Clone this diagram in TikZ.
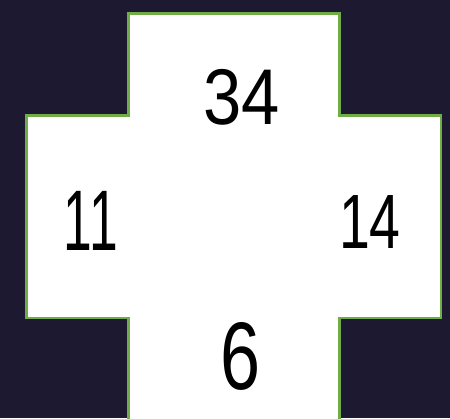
\documentclass[tikz,border=0pt]{standalone}
\usepackage{fontspec}
\setmainfont{Liberation Sans}
\definecolor{bgc}{HTML}{1C1930}
\definecolor{edgegreen}{HTML}{70AD47}
\tikzset{
  crossline/.style={draw=edgegreen, line width=2.6pt, fill=white, line join=miter},
  digits/.style={text=black, inner sep=0pt}
}
\begin{document}
\begin{tikzpicture}[x=1pt,y=-1pt]
\useasboundingbox (0,0) rectangle (450,418);
\clip (0,0) rectangle (450,418);
\fill[bgc] (0,0) rectangle (450,418);
\draw[crossline] (128.3,425) -- (128.3,318) -- (26.3,318) -- (26.3,115.5) -- (128.3,115.5) -- (128.3,13.3) -- (339.5,13.3) -- (339.5,115.5) -- (441,115.5) -- (441,318) -- (339.5,318) -- (339.5,425);
\node[digits, font=\fontsize{79}{80}\selectfont, xscale=0.87] (top) at (242,97) {34};
\node[digits, font=\fontsize{86}{88}\selectfont, xscale=0.6] (left) at (91,221) {1\kern-4pt1};
\node[digits, font=\fontsize{77}{80}\selectfont, xscale=0.72] (right) at (370,222) {14};
\node[digits, font=\fontsize{96}{100}\selectfont, xscale=0.75] (bottom) at (241,356) {6};
\end{tikzpicture}
\end{document}
